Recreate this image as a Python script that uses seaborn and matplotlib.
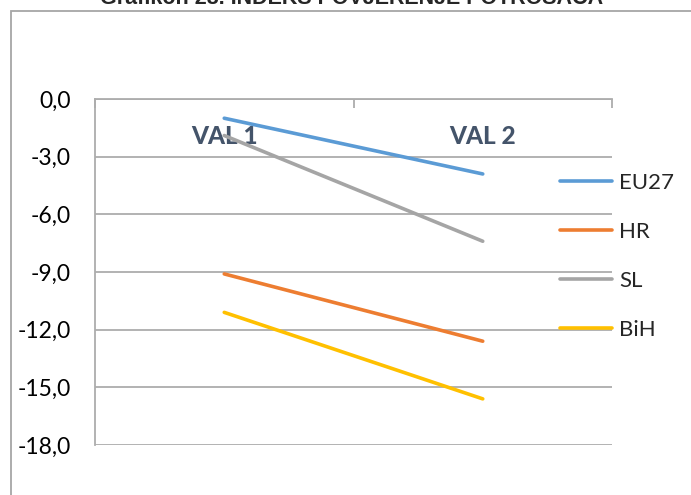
import numpy as np
import pandas as pd
import matplotlib
matplotlib.use("Agg")
import matplotlib.pyplot as plt
import seaborn as sns
from matplotlib.patches import Rectangle
from matplotlib.ticker import FixedLocator, FuncFormatter

# data
waves = ["VAL 1", "VAL 2"]
countries = ["EU27", "HR", "SL", "BiH"]
eu27 = [-1.0, -3.9]
hr = [-9.1, -12.6]
sl = [-1.9, -7.4]
bih = [-11.1, -15.6]
colors = ["#5B9BD5", "#ED7D31", "#A5A5A5", "#FFC000"]
title = "Grafikon 28. INDEKS POVJERENJE POTROŠAČA"

# long form table for seaborn
rows = []
for name, vals in zip(countries, [eu27, hr, sl, bih]):
    for i, v in enumerate(vals):
        rows.append({"pos": i, "wave": waves[i], "country": name, "value": v})
df = pd.DataFrame(rows)

sns.set_style("white")
plt.rcParams["font.family"] = ["Lato", "DejaVu Sans"]

grid_col = "#ADADAD"
fig = plt.figure(figsize=(6.91, 4.95), dpi=100)
ax = fig.add_axes([95 / 691, 1 - 445 / 495, (612 - 95) / 691, (445 - 99) / 495])

sns.lineplot(data=df, x="pos", y="value", hue="country", hue_order=countries,
             palette=colors, linewidth=2.6, ax=ax, sort=False,
             solid_capstyle="round")

ax.set_xlim(-0.5, 1.5)
ax.set_ylim(-18, 0)
ax.set_yticks(np.arange(-18, 0.1, 3))
ax.yaxis.set_major_formatter(FuncFormatter(lambda v, p: f"{v:.1f}".replace(".", ",")))
ax.yaxis.grid(True, color=grid_col, linewidth=1.3)
ax.set_axisbelow(True)
ax.tick_params(axis="y", length=6.5, width=1.3, color=grid_col, pad=11,
               labelsize=16.5, labelcolor="#000000")

# category axis sits at 0 (top), labels just below it
ax.xaxis.set_ticks_position("top")
ax.set_xticks([0, 1])
ax.set_xticklabels(waves)
ax.xaxis.set_minor_locator(FixedLocator([-0.5, 0.5, 1.5]))
ax.tick_params(axis="x", which="major", length=0, pad=-35, labelsize=17.5,
               labelcolor="#44546A")
ax.tick_params(axis="x", which="minor", direction="in", length=6.5, width=1.3,
               color=grid_col)
for lbl in ax.get_xticklabels():
    lbl.set_fontweight("black")
    lbl.set_verticalalignment("bottom")
ax.set_xlabel("")
ax.set_ylabel("")

for s in ["right", "bottom"]:
    ax.spines[s].set_visible(False)
for s in ["left", "top"]:
    ax.spines[s].set_color(grid_col)
    ax.spines[s].set_linewidth(1.3)

leg = ax.legend(loc="center left", bbox_to_anchor=(560 / 691, 1 - 256.5 / 495),
                bbox_transform=fig.transFigure, frameon=False, fontsize=16,
                handlelength=2.35, handletextpad=0.3, labelspacing=1.3,
                borderpad=0, borderaxespad=0)
for h in leg.get_lines():
    h.set_linewidth(2.6)

# outer chart border and clipped title (the reference crops it at the top)
fig.patches.append(Rectangle((11 / 691, -0.2), 1.2, (1 - 11 / 495) + 0.2,
                             transform=fig.transFigure, fill=False,
                             edgecolor="#A6A6A6", linewidth=1.3))
fig.text(352 / 691, 1 - 4 / 495, title, ha="center", va="baseline",
         fontsize=15.5, fontweight="bold", family=["Liberation Sans", "DejaVu Sans"])

fig.savefig("out.png", dpi=100)
